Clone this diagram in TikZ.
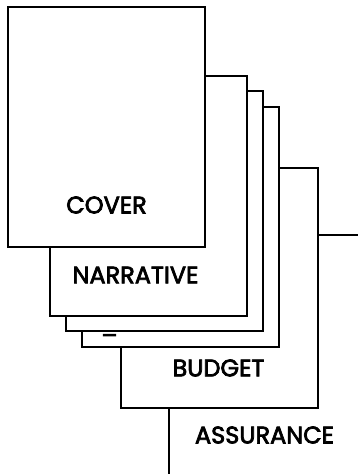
\documentclass[tikz,border=0pt]{standalone}
\usepackage{fontspec}
\setmainfont{Poppins}
\newfontfamily\pagefont{Poppins}[FakeBold=3]
\usetikzlibrary{positioning}
\tikzset{page/.style={draw,fill=white,line width=1.3pt,anchor=north west,minimum width=197pt,minimum height=240pt,inner sep=0pt,outer sep=0pt},
  pagelabel/.style={font=\fontsize{24}{24}\pagefont}}
\begin{document}
\begin{tikzpicture}[x=1pt,y=-1pt]
        \useasboundingbox (0,0) rectangle (358,474);
        \clip (0,0) rectangle (358,474);
        \node[page] (assurance) at (169,235) {};
        \node[page] (budget) at (121,168) {};
        \node[page] (fourth) at (82,107) {};
        \node[page] (third) at (66,91) {};
        \node[page] (narrative) at (50,76) {};
        \node[page] (cover) at (8,7) {};
        \node[pagelabel] (coverlabel) at ([yshift=42pt]cover.south) {COVER};
        \node[pagelabel] (narrativelabel) at ([xshift=-13pt,yshift=41pt]narrative.south) {NARRATIVE};
        \node[pagelabel] (dash) at ([xshift=-71pt,yshift=8pt]fourth.south) {–};
        \node[pagelabel] (budgetlabel) at ([xshift=-1pt,yshift=40pt]budget.south) {BUDGET};
        \node[pagelabel] (assurancelabel) at ([xshift=-3pt,yshift=40pt]assurance.south) {ASSURANCE};
    \end{tikzpicture}
\end{document}
